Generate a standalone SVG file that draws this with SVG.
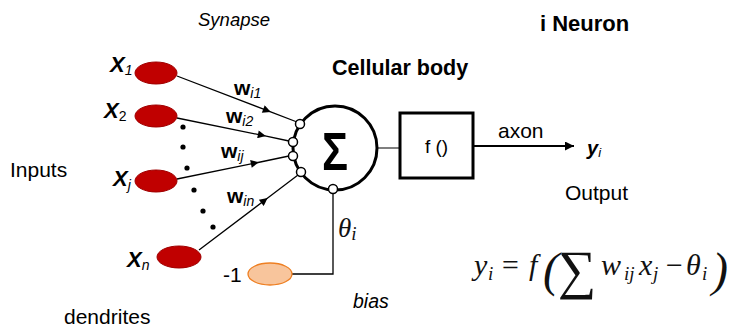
<svg xmlns="http://www.w3.org/2000/svg" width="729" height="327" viewBox="0 0 729 327">
<style>
.t{font-family:"Liberation Sans",Arial,sans-serif;fill:#000}
.bi{font-weight:bold;font-style:italic}
.it{font-style:italic}
.b{font-weight:bold}
.in{fill:#c00000;stroke:#a00000;stroke-width:1}
.syn{fill:#fff;stroke:#000;stroke-width:1.5}
.ln{fill:none;stroke:#000;stroke-width:1.3}
.dot{fill:#000}
.m{font-family:"Liberation Serif","DejaVu Serif",serif;font-style:italic;fill:#111}
</style>
<defs>
<marker id="ah" viewBox="0 0 10 10" refX="9" refY="5" markerWidth="10" markerHeight="8" markerUnits="userSpaceOnUse" orient="auto">
<path d="M0,0 L10,5 L0,10 z" fill="#000"/>
</marker>
<marker id="ah2" viewBox="0 0 10 10" refX="10" refY="5" markerWidth="10" markerHeight="9" markerUnits="userSpaceOnUse" orient="auto">
<path d="M0,0 L10,5 L0,10 z" fill="#000"/>
</marker>
</defs>

<text class="t it" x="198" y="26" font-size="18.5">Synapse</text>
<text class="t b" x="540" y="31" font-size="22">i Neuron</text>
<text class="t b" x="332" y="75" font-size="21.5">Cellular body</text>
<text class="t" x="10" y="177" font-size="21">Inputs</text>
<text class="t" x="64" y="324" font-size="21">dendrites</text>
<text class="t it" x="353" y="308" font-size="19.5">bias</text>
<text class="t" x="565" y="200" font-size="21">Output</text>

<g id="connectors">
<path class="ln" d="M177,76 L270,111.6 L297,122" marker-mid="url(#ah)"/>
<path class="ln" d="M177,118 L265,135.9 L289,141" marker-mid="url(#ah)"/>
<path class="ln" d="M177,179 L258,162.5 L289,156" marker-mid="url(#ah)"/>
<path class="ln" d="M199,250 L267,198.5 L298,175" marker-mid="url(#ah)"/>
<path class="ln" d="M292,274 L333,274 L333,193.5"/>
<line x1="377" y1="148" x2="400" y2="148" stroke="#555" stroke-width="1.5"/>
<line x1="473" y1="146" x2="574" y2="146" stroke="#000" stroke-width="2" marker-end="url(#ah2)"/>
</g>

<g id="dots">
<circle class="dot" cx="183" cy="127" r="2.6"/>
<circle class="dot" cx="183" cy="147" r="2.6"/>
<circle class="dot" cx="187" cy="168" r="2.6"/>
<circle class="dot" cx="194" cy="190" r="2.6"/>
<circle class="dot" cx="203" cy="211" r="2.6"/>
<circle class="dot" cx="213" cy="227" r="2.6"/>
</g>

<g id="x1"><ellipse class="in" cx="156" cy="73" rx="21" ry="11"/><text class="t bi" x="110" y="72" font-size="22">X<tspan font-size="14" font-weight="normal" dy="3">1</tspan></text></g>
<g id="x2"><ellipse class="in" cx="156" cy="116" rx="21" ry="11"/><text class="t bi" x="104" y="118" font-size="22">X<tspan font-size="14" font-weight="normal" font-style="normal" dy="3">2</tspan></text></g>
<g id="xj"><ellipse class="in" cx="156" cy="181" rx="21" ry="11"/><text class="t bi" x="113" y="186" font-size="22">X<tspan font-size="14" font-weight="normal" dy="4">j</tspan></text></g>
<g id="xn"><ellipse class="in" cx="179" cy="257" rx="22" ry="11"/><text class="t bi" x="127" y="267" font-size="22">X<tspan font-size="14" font-weight="normal" dy="3">n</tspan></text></g>
<g id="bias"><ellipse cx="270" cy="274" rx="22" ry="11" fill="#f8c59c" stroke="#ee7f22" stroke-width="1.3"/><text class="t" x="223" y="282" font-size="21">-1</text></g>

<g id="weights">
<text class="t b" x="234" y="95" font-size="21">w<tspan class="it" font-weight="normal" font-size="14" dy="3">i1</tspan></text>
<text class="t b" x="226" y="123" font-size="21">w<tspan class="it" font-weight="normal" font-size="14" dy="3">i2</tspan></text>
<text class="t b" x="221" y="158" font-size="21">w<tspan class="it" font-weight="normal" font-size="14" dy="3">ij</tspan></text>
<text class="t b" x="227" y="203" font-size="21">w<tspan class="it" font-weight="normal" font-size="14" dy="3">in</tspan></text>
</g>

<g id="body">
<circle cx="335" cy="148" r="42" fill="#fff" stroke="#000" stroke-width="3"/>
<text class="t b" x="335" y="170" font-size="54" text-anchor="middle" textLength="26" lengthAdjust="spacingAndGlyphs">Σ</text>
<circle class="syn" cx="300" cy="124" r="4.5"/>
<circle class="syn" cx="293" cy="142" r="4.5"/>
<circle class="syn" cx="293" cy="156" r="4.5"/>
<circle class="syn" cx="301" cy="172" r="4.5"/>
<circle class="syn" cx="333" cy="189" r="4.5"/>
</g>

<g id="activation">
<rect x="400" y="113" width="73" height="65" fill="#fff" stroke="#000" stroke-width="3"/>
<text class="t" x="436.5" y="153" font-size="19" text-anchor="middle">f ()</text>
</g>

<text class="t" x="498" y="138" font-size="21">axon</text>
<g id="output"><text class="t bi" x="587" y="155" font-size="20">y<tspan font-size="13" font-weight="normal" dy="2">i</tspan></text></g>

<text class="m" x="338" y="237" font-size="27">θ<tspan font-size="19" dy="3">i</tspan></text>

<g id="formula">
<text class="m" x="474" y="275" font-size="30">y</text>
<text class="m" x="488" y="280" font-size="19">i</text>
<text class="m" x="500" y="275" font-size="30" font-style="normal">=</text>
<text class="m" x="529" y="275" font-size="30">f</text>
<text class="m" x="543" y="286" font-size="48" font-style="normal">(</text>
<text class="m" x="558" y="288" font-size="54" font-style="normal">∑</text>
<text class="m" x="601" y="275" font-size="30">w</text>
<text class="m" x="624" y="280" font-size="19">ij</text>
<text class="m" x="639" y="275" font-size="30">x</text>
<text class="m" x="653" y="280" font-size="19">j</text>
<text class="m" x="664" y="275" font-size="30" font-style="normal">−</text>
<text class="m" x="686" y="275" font-size="30">θ</text>
<text class="m" x="702" y="280" font-size="19">i</text>
<text class="m" x="712" y="286" font-size="48" font-style="normal">)</text>
</g>
</svg>
